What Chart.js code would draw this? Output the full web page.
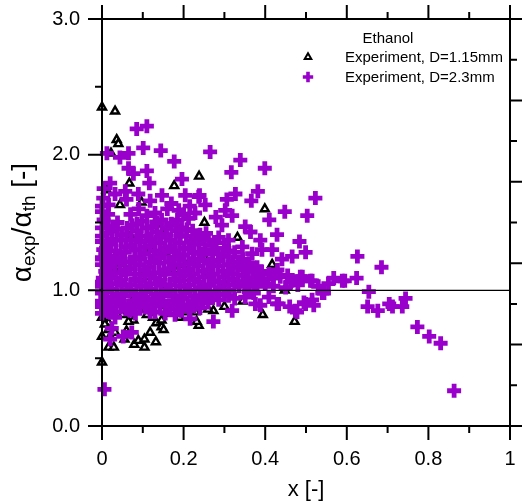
<!DOCTYPE html>
<html>
<head>
<meta charset="utf-8">
<script src="https://cdn.jsdelivr.net/npm/chart.js@4/dist/chart.umd.min.js"></script>
<style>
  html, body { margin: 0; padding: 0; background: #fff; }
  canvas { display: block; }
</style>
</head>
<body>
<canvas id="c" width="522" height="503"></canvas>
<script>
// Heat transfer ratio alpha_exp / alpha_th versus vapour quality x, ethanol

const seriesNames = ['Experiment, D=1.15mm', 'Experiment, D=2.3mm'];
const fluidName = 'Ethanol';

// D = 1.15 mm tube: [x, alpha_exp/alpha_th]
const tube115 = [
  [0.000,2.35],[0.032,2.32],[0.036,2.11],[0.040,2.08],[0.022,2.01],[0.011,1.74],
  [0.067,1.79],[0.177,1.77],[0.238,1.84],[0.251,1.50],[0.044,1.63],[0.097,1.65],
  [0.332,1.39],[0.399,1.60],[0.417,1.19],[0.448,1.00],[0.394,0.82],[0.472,0.77],
  [0.155,1.28],[0.204,1.19],[0.210,1.09],[0.028,1.17],
  [0.000,0.47],[0.016,0.58],[0.029,0.58],[0.055,0.64],[0.079,0.60],[0.089,0.63],
  [0.104,0.58],[0.104,0.64],[0.118,0.69],[0.132,0.62],[0.133,0.76],[0.146,0.73],
  [0.151,0.71],[0.146,0.78],[0.237,0.74],[0.232,0.77],[0.229,0.84],[0.212,0.86],
  [0.205,0.84],[0.171,0.88],[0.151,0.86],[0.077,0.78],[0.065,0.77],[0.016,0.76],
  [0.007,0.75],[0.016,0.71],[0.032,0.69],[0.273,0.85],[0.220,0.89],[0.000,0.66],
  [0.020,0.66],[0.060,0.70],[0.110,0.82],[0.190,0.80],[0.165,0.83],[0.125,0.80],
  [0.090,0.86],[0.050,0.82],[0.000,0.80],[0.300,0.88],[0.260,0.86],[0.345,0.92],
  [0.050,1.20],[0.100,1.10],[0.150,1.00],[0.200,0.95],[0.120,1.30],[0.300,1.05],
  [0.080,0.95],[0.180,1.15],[0.030,0.90],[0.070,1.40],[0.140,1.45],[0.010,1.30],
  [0.250,1.25]
];

// D = 2.3 mm tube: [x, alpha_exp/alpha_th]
const tube23 = [
  [0.006,0.27],
  [0.085,2.19],[0.110,2.21],[0.012,2.01],[0.044,1.98],[0.065,2.01],[0.101,2.05],
  [0.144,2.03],[0.177,1.95],[0.265,2.02],[0.065,1.90],[0.077,1.86],[0.110,1.88],
  [0.020,1.79],[0.116,1.79],[0.196,1.82],[0.339,1.96],[0.399,1.90],[0.317,1.87],
  [0.327,1.71],[0.382,1.73],[0.366,1.66],[0.306,1.67],[0.239,1.70],[0.253,1.63],
  [0.523,1.68],[0.448,1.58],[0.503,1.55],[0.410,1.52],[0.319,1.55],[0.279,1.54],
  [0.302,1.59],[0.429,1.41],[0.351,1.47],[0.364,1.43],[0.388,1.37],[0.484,1.36],
  [0.499,1.28],[0.466,1.25],[0.441,1.23],[0.417,1.30],[0.392,1.30],[0.368,1.27],
  [0.344,1.32],[0.310,1.37],[0.286,1.39],[0.261,1.37],[0.294,1.48],
  [0.626,1.25],[0.685,1.17],[0.624,1.09],[0.595,1.07],[0.568,1.09],[0.511,1.07],
  [0.486,1.10],[0.462,1.06],[0.654,0.99],[0.651,0.88],[0.676,0.85],[0.704,0.90],
  [0.712,0.88],[0.736,0.88],[0.744,0.94],[0.773,0.73],[0.802,0.66],[0.830,0.61],
  [0.863,0.26],[0.540,0.98],[0.519,0.89],[0.495,0.91],[0.478,0.84],[0.460,0.88],
  [0.429,0.90],[0.409,0.95],[0.388,0.89],[0.372,0.98],
  [0.589,1.07],[0.515,1.07],[0.491,1.10],[0.466,1.07],[0.437,1.10],[0.409,1.12],
  [0.384,1.12],[0.359,1.14],[0.544,0.98],[0.515,0.93],[0.499,0.90],[0.474,0.85],
  [0.433,0.90],[0.376,0.90],[0.351,0.95],[0.319,0.85],[0.273,0.77],[0.286,0.93],
  [0.253,0.98],
  [0.420,1.03],[0.450,1.02],[0.480,1.04],[0.530,1.03],[0.555,1.05],[0.400,1.05],
  [0.375,1.06],[0.350,1.05],
  [0.147,1.70],[0.204,1.70],[0.237,1.69],[0.003,1.68],[0.032,1.71],[0.057,1.73],
  [0.089,1.71],[0.118,1.66],[0.016,1.63],[0.188,1.59],[0.212,1.53],[0.228,1.57],
  [0.020,0.64],[0.024,0.72],[0.073,0.69],[0.052,0.66],[0.032,0.80],[0.016,0.84],
  [0.069,0.85],[0.130,0.84],[0.179,0.82],[0.216,0.79],[0.106,0.90],
  [0.004,1.52],[0.026,1.47],[0.074,1.48],[0.098,1.51],[0.122,1.47],[0.146,1.52],
  [0.170,1.49],[0.195,1.46],[0.222,1.44],
  [0.012,1.42],[0.036,1.45],[0.060,1.41],[0.085,1.44],[0.110,1.40],[0.134,1.43],
  [0.158,1.41],[0.182,1.44],[0.207,1.40],[0.232,1.38],[0.255,1.42],
  [0.000,1.36],[0.022,1.34],[0.046,1.37],[0.070,1.33],[0.094,1.36],[0.118,1.33],
  [0.142,1.35],[0.166,1.32],[0.190,1.35],[0.214,1.31],[0.238,1.34],[0.270,1.30],
  [0.300,1.31],[0.325,1.28],
  [0.008,1.27],[0.032,1.25],[0.056,1.28],[0.080,1.24],[0.104,1.27],[0.128,1.25],
  [0.152,1.28],[0.176,1.24],[0.200,1.26],[0.224,1.23],[0.248,1.27],[0.272,1.22],
  [0.296,1.25],[0.320,1.21],[0.345,1.23],
  [0.000,1.19],[0.020,1.17],[0.044,1.20],[0.068,1.16],[0.092,1.19],[0.116,1.17],
  [0.140,1.20],[0.164,1.16],[0.188,1.19],[0.212,1.15],[0.236,1.18],[0.260,1.15],
  [0.284,1.18],[0.308,1.14],[0.332,1.17],[0.356,1.19],[0.380,1.17],
  [0.010,1.11],[0.034,1.09],[0.058,1.12],[0.082,1.08],[0.106,1.11],[0.130,1.09],
  [0.154,1.12],[0.178,1.08],[0.202,1.11],[0.226,1.08],[0.250,1.10],[0.274,1.07],
  [0.298,1.10],[0.322,1.08],[0.346,1.11],[0.370,1.09],[0.395,1.08],[0.420,1.09],
  [0.455,1.11],
  [0.000,1.03],[0.024,1.01],[0.048,1.04],[0.072,1.00],[0.096,1.03],[0.120,1.01],
  [0.144,1.04],[0.168,1.00],[0.192,1.03],[0.216,1.00],[0.240,1.02],[0.264,0.99],
  [0.288,1.02],[0.312,1.00],[0.336,1.03],[0.360,0.99],
  [0.008,0.95],[0.030,0.93],[0.054,0.96],[0.078,0.92],[0.102,0.95],[0.126,0.93],
  [0.150,0.96],[0.174,0.92],[0.198,0.94],[0.222,0.91],[0.246,0.93],[0.270,0.95],
  [0.300,0.97],[0.325,0.94],
  [0.000,0.88],[0.022,0.87],[0.046,0.89],[0.070,0.86],[0.094,0.88],[0.118,0.87],
  [0.142,0.89],[0.166,0.86],[0.190,0.88],[0.214,0.85],[0.240,0.87],
  [0.015,1.56],[0.090,1.60],[0.130,1.57],[0.160,1.60],[0.060,1.67],[0.170,1.64],
  [0.215,1.62],[0.000,1.46],[0.003,1.30],[0.000,1.24],[0.002,1.09],[0.000,0.98],
  [0.000,0.83],[0.000,0.92],[0.004,1.75],[0.000,1.58],
  [0.014,1.47],[0.038,1.50],[0.062,1.46],[0.086,1.49],[0.110,1.46],[0.134,1.50],
  [0.158,1.46],[0.182,1.48],[0.208,1.45],[0.240,1.41],
  [0.000,1.40],[0.024,1.38],[0.048,1.41],[0.072,1.37],[0.096,1.40],[0.120,1.38],
  [0.144,1.39],[0.168,1.37],[0.192,1.40],[0.218,1.36],[0.244,1.38],[0.280,1.35],
  [0.010,1.31],[0.034,1.29],[0.058,1.32],[0.082,1.30],[0.106,1.32],[0.130,1.29],
  [0.154,1.31],[0.178,1.29],[0.202,1.31],[0.226,1.28],[0.252,1.30],[0.285,1.27],
  [0.310,1.29],
  [0.000,1.23],[0.022,1.21],[0.046,1.23],[0.070,1.21],[0.094,1.23],[0.118,1.21],
  [0.142,1.24],[0.166,1.21],[0.190,1.23],[0.214,1.20],[0.238,1.22],[0.262,1.20],
  [0.286,1.22],[0.310,1.19],[0.335,1.21],[0.360,1.20],
  [0.008,1.14],[0.032,1.13],[0.056,1.15],[0.080,1.12],[0.104,1.15],[0.128,1.13],
  [0.152,1.15],[0.176,1.12],[0.200,1.14],[0.224,1.12],[0.248,1.14],[0.272,1.12],
  [0.296,1.14],[0.320,1.12],[0.345,1.15],[0.390,1.14],[0.430,1.15],
  [0.000,1.06],[0.022,1.05],[0.046,1.07],[0.070,1.04],[0.094,1.07],[0.118,1.05],
  [0.142,1.07],[0.166,1.04],[0.190,1.07],[0.214,1.04],[0.238,1.06],[0.262,1.04],
  [0.286,1.06],[0.310,1.04],[0.334,1.06],[0.358,1.05],[0.380,1.03],
  [0.012,0.99],[0.036,0.97],[0.060,1.00],[0.084,0.97],[0.108,0.99],[0.132,0.97],
  [0.156,1.00],[0.180,0.96],[0.204,0.98],[0.228,0.96],[0.252,0.98],[0.280,0.97],
  [0.310,0.96],
  [0.000,0.91],[0.020,0.90],[0.044,0.92],[0.068,0.89],[0.092,0.91],[0.116,0.90],
  [0.140,0.92],[0.164,0.89],[0.188,0.91],[0.212,0.89],[0.236,0.90],[0.260,0.91],
  [0.010,0.85],[0.034,0.84],[0.058,0.86],[0.082,0.83],[0.118,0.84],[0.155,0.83],
  [0.195,0.85],
  [0.000,1.62],[0.070,1.56],[0.110,1.55],[0.185,1.52],[0.200,1.56]
];

// axis ranges and ticks
const xTicks = [0, 0.2, 0.4, 0.6, 0.8, 1];
const xMinorTicks = [0.1, 0.3, 0.5, 0.7, 0.9];
const yTicks = [0, 1, 2, 3];
const yMinorTicks = [0.5, 1.5, 2.5];
// unlabelled right-hand axis, divided like the x axis
const rightTicks = [0, 0.6, 1.2, 1.8, 2.4, 3.0];
const rightMinorTicks = [0.3, 0.9, 1.5, 2.1, 2.7];
const referenceLevel = 1.0;

const FONT = "'Liberation Sans', Arial, Helvetica, sans-serif";
const PURPLE = '#9900cc';

Chart.defaults.font.family = FONT;
Chart.defaults.color = '#000';

// box frame with outward ticks on all four sides, plus the unity line
const framePlugin = {
  id: 'frame',
  afterDatasetsDraw(chart) {
    const ctx = chart.ctx;
    const xs = chart.scales.x, ys = chart.scales.y;
    const a = chart.chartArea;
    const L = a.left, R = a.right, T = a.top, B = a.bottom;
    ctx.save();
    ctx.strokeStyle = '#000';
    ctx.lineCap = 'butt';

    // unity reference line
    ctx.lineWidth = 1.2;
    const yr = ys.getPixelForValue(referenceLevel);
    ctx.beginPath(); ctx.moveTo(L, yr); ctx.lineTo(R, yr); ctx.stroke();

    ctx.lineWidth = 2;
    const major = 14, minor = 7, rMajor = 12, rMinor = 7;
    ctx.beginPath();
    // frame lines, extended by the tick length past the corners
    ctx.moveTo(L - major, B); ctx.lineTo(R + rMajor, B);
    ctx.moveTo(L - major, T); ctx.lineTo(R + rMajor, T);
    ctx.moveTo(L, T - major); ctx.lineTo(L, B + major);
    ctx.moveTo(R, T - major); ctx.lineTo(R, B + major);
    // bottom and top ticks
    xTicks.forEach(v => {
      const p = xs.getPixelForValue(v);
      ctx.moveTo(p, B); ctx.lineTo(p, B + major);
      ctx.moveTo(p, T); ctx.lineTo(p, T - major);
    });
    xMinorTicks.forEach(v => {
      const p = xs.getPixelForValue(v);
      ctx.moveTo(p, B); ctx.lineTo(p, B + minor);
      ctx.moveTo(p, T); ctx.lineTo(p, T - minor);
    });
    // left ticks
    yTicks.forEach(v => {
      const p = ys.getPixelForValue(v);
      ctx.moveTo(L, p); ctx.lineTo(L - major, p);
    });
    yMinorTicks.forEach(v => {
      const p = ys.getPixelForValue(v);
      ctx.moveTo(L, p); ctx.lineTo(L - minor, p);
    });
    // right ticks
    rightTicks.forEach(v => {
      const p = ys.getPixelForValue(v);
      ctx.moveTo(R, p); ctx.lineTo(R + rMajor, p);
    });
    rightMinorTicks.forEach(v => {
      const p = ys.getPixelForValue(v);
      ctx.moveTo(R, p); ctx.lineTo(R + rMinor, p);
    });
    ctx.stroke();
    ctx.restore();
  },
  afterDraw(chart) {
    const ctx = chart.ctx;
    ctx.save();
    ctx.fillStyle = '#000';

    // rotated y title with subscripts
    const big = '28px ' + FONT, small = '19px ' + FONT;
    const parts = [
      ['\u03b1', big, 0], ['exp', small, 4], ['/\u03b1', big, 0],
      ['th', small, 4], [' [-]', big, 0]
    ];
    let total = 0;
    parts.forEach(p => { ctx.font = p[1]; total += ctx.measureText(p[0]).width; });
    const a = chart.chartArea;
    ctx.translate(31, (a.top + a.bottom) / 2);
    ctx.rotate(-Math.PI / 2);
    ctx.textBaseline = 'alphabetic';
    ctx.textAlign = 'left';
    let x = -total / 2;
    parts.forEach(p => {
      ctx.font = p[1];
      ctx.fillText(p[0], x, p[2]);
      x += ctx.measureText(p[0]).width;
    });
    ctx.restore();

    // legend
    ctx.save();
    ctx.font = '15px ' + FONT;
    ctx.textBaseline = 'middle';
    ctx.fillStyle = '#000';
    ctx.textAlign = 'center';
    ctx.fillText(fluidName, 388, 39);
    ctx.textAlign = 'left';
    const rows = [57, 77];
    const ds = chart.data.datasets;
    rows.forEach((yy, i) => {
      const d = ds[i];
      ctx.strokeStyle = d.pointBorderColor;
      ctx.fillStyle = d.pointBackgroundColor;
      ctx.lineWidth = i === 0 ? 2 : 3.6;
      Chart.helpers.drawPoint(ctx, {
        pointStyle: d.pointStyle,
        radius: i === 0 ? 3.8 : 5.2,
        rotation: 0,
        borderWidth: ctx.lineWidth
      }, 308, yy);
      ctx.fillStyle = '#000';
      ctx.fillText(seriesNames[i], 345, yy + 0.5);
    });
    ctx.restore();
  }
};

// invisible tick marks only reserve the gap between axis and labels
const hiddenGrid = len => ({
  display: true,
  drawOnChartArea: false,
  drawTicks: true,
  tickLength: len,
  color: 'rgba(0,0,0,0)'
});

new Chart(document.getElementById('c'), {
  type: 'scatter',
  data: {
    datasets: [
      {
        label: seriesNames[0],
        data: tube115.map(p => ({ x: p[0], y: p[1] })),
        pointStyle: 'triangle',
        pointRadius: 4.6,
        pointBorderWidth: 2.4,
        pointBorderColor: '#000',
        pointBackgroundColor: '#fff',
        clip: false,
        order: 1
      },
      {
        label: seriesNames[1],
        data: tube23.map(p => ({ x: p[0], y: p[1] })),
        pointStyle: 'cross',
        pointRadius: 7,
        pointBorderWidth: 4.8,
        pointBorderColor: PURPLE,
        pointBackgroundColor: PURPLE,
        clip: false,
        order: 0
      }
    ]
  },
  options: {
    responsive: false,
    animation: false,
    events: [],
    devicePixelRatio: 1,
    layout: { autoPadding: false, padding: { top: 19, right: 12, bottom: 0, left: 0 } },
    plugins: { legend: { display: false }, tooltip: { enabled: false } },
    scales: {
      x: {
        type: 'linear',
        position: 'bottom',
        min: 0, max: 1,
        afterBuildTicks: s => { s.ticks = xTicks.map(v => ({ value: v })); },
        afterFit: s => { s.height = 77; },
        grid: hiddenGrid(21),
        border: { display: false },
        ticks: {
          padding: 0,
          font: { size: 20 },
          maxRotation: 0,
          autoSkip: false,
          callback: v => String(v)
        },
        title: {
          display: true,
          text: 'x [-]',
          font: { size: 22 },
          padding: { top: 0, bottom: 0 }
        }
      },
      y: {
        type: 'linear',
        position: 'left',
        min: 0, max: 3,
        afterBuildTicks: s => { s.ticks = yTicks.map(v => ({ value: v })); },
        afterFit: s => { s.width = 102; },
        grid: hiddenGrid(22),
        border: { display: false },
        ticks: {
          padding: 0,
          font: { size: 20 },
          autoSkip: false,
          callback: v => v.toFixed(1)
        }
      }
    }
  },
  plugins: [framePlugin]
});
</script>
</body>
</html>
